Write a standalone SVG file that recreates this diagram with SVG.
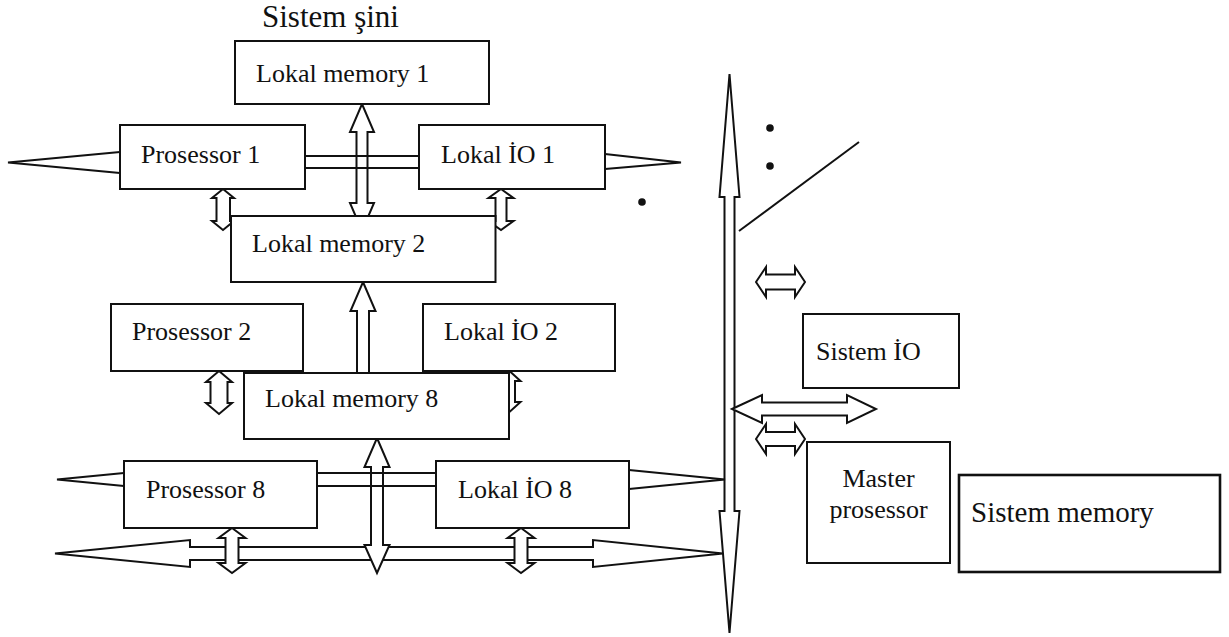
<svg xmlns="http://www.w3.org/2000/svg" width="1229" height="637" viewBox="0 0 1229 637">
  <style>
    .box { fill: #fff; stroke: #111; stroke-width: 2; }
    .thick { stroke-width: 2.6; }
    .ln { fill: none; stroke: #111; stroke-width: 2; }
    .arr { fill: #fff; stroke: #111; stroke-width: 2; stroke-linejoin: miter; }
    .arr0 { fill: none; stroke: #111; stroke-width: 2; stroke-linejoin: miter; }
    .lbl { font-family: "Liberation Serif", "Times New Roman", serif; font-size: 26px; fill: #111; }
    .big { font-size: 29px; }
    .title { font-size: 31px; }
    .dot { fill: #111; }
  </style>

  <rect width="1229" height="637" fill="#fff"/>

  <text class="lbl title" x="262" y="27">Sistem şini</text>

  <g id="connectors">
    <!-- system bus (vertical, double-headed) -->
    <polygon class="arr" points="729.5,74 739.5,197 734.5,197 734.5,511 739.5,511 729.5,633 719.5,511 724.5,511 724.5,197 719.5,197"/>

    <!-- outward spikes from the processor / IO boxes -->
    <polyline class="ln" points="120,152 8,162.5 120,173"/>
    <polyline class="ln" points="605,154 681,162.5 605,169"/>
    <polyline class="ln" points="124,473 57,479.5 124,486"/>
    <polyline class="ln" points="629,470 725,479.5 629,489"/>

    <!-- local bus 1 -->
    <line class="ln" x1="305" y1="156" x2="419" y2="156"/>
    <line class="ln" x1="305" y1="168" x2="419" y2="168"/>
    <polygon class="arr0" points="362,104 374,132 367.5,132 367.5,203 374,203 362,231 350,203 356.5,203 356.5,132 350,132"/>

    <!-- short links around local memory 2 -->
    <polygon class="arr" points="223,189 234,198 230,198 230,221 234,221 223,230 212,221 216.5,221 216.5,198 212,198"/>
    <polygon class="arr" points="501,189 513.5,198 506.5,198 506.5,221 513.5,221 501,230 488.5,221 495.5,221 495.5,198 488.5,198"/>

    <!-- local memory 8 to local memory 2 -->
    <polygon class="arr" points="363,282 375.5,311 369,311 369,373 357,373 357,311 350.5,311"/>

    <!-- short links around local memory 8 -->
    <polygon class="arr" points="219,371 232,382 227.5,382 227.5,403 232,403 219,414 206,403 210.5,403 210.5,382 206,382"/>
    <polygon class="arr" points="509.5,371 520.5,381 515,381 515,402 520.5,402 509.5,412 498.5,402 504,402 504,381 498.5,381"/>

    <!-- bottom local bus (double-headed) -->
    <polygon class="arr" points="55,553.5 190,540 190,547 593,547 593,540 723,553.5 593,567 593,560 190,560 190,567"/>
    <polygon class="arr" points="377,438 389.5,467 383,467 383,545 389.5,545 377,573 364.5,545 371,545 371,467 364.5,467"/>
    <line class="ln" x1="317" y1="473" x2="436" y2="473"/>
    <line class="ln" x1="317" y1="486" x2="436" y2="486"/>
    <polygon class="arr" points="232,528 245.5,538 238.5,538 238.5,563 245.5,563 232,573 218.5,563 225.5,563 225.5,538 218.5,538"/>
    <polygon class="arr" points="521,528 534.5,538 527.5,538 527.5,563 534.5,563 521,573 507.5,563 514.5,563 514.5,538 507.5,538"/>

    <!-- links on the system bus side -->
    <polygon class="arr" points="756,282 766,267 766,274.5 795,274.5 795,267 805,282 795,297 795,289.5 766,289.5 766,297"/>
    <polygon class="arr" points="732,409 762,395 762,402.5 847,402.5 847,395 876,409 847,423 847,415.5 762,415.5 762,423"/>
    <polygon class="arr" points="756,439 766,424 766,432 795,432 795,424 805,439 795,454 795,446 766,446 766,454"/>

    <line class="ln" x1="739" y1="231" x2="859" y2="142"/>
    <circle class="dot" cx="770" cy="128" r="3.8"/>
    <circle class="dot" cx="770" cy="166" r="3.8"/>
    <circle class="dot" cx="642" cy="202" r="3.8"/>
  </g>

  <g id="lokal-memory-1">
    <rect class="box" x="235" y="41" width="254" height="63"/>
    <text class="lbl" x="256" y="82">Lokal memory 1</text>
  </g>
  <g id="prosessor-1">
    <rect class="box" x="120" y="125" width="185" height="64"/>
    <text class="lbl" x="141" y="163">Prosessor 1</text>
  </g>
  <g id="lokal-io-1">
    <rect class="box" x="419" y="125" width="186" height="64"/>
    <text class="lbl" x="441" y="163">Lokal İO 1</text>
  </g>
  <g id="lokal-memory-2">
    <rect class="box" x="231" y="216" width="264.5" height="66"/>
    <text class="lbl" x="252" y="252">Lokal memory 2</text>
  </g>
  <g id="prosessor-2">
    <rect class="box" x="111" y="304" width="192" height="67"/>
    <text class="lbl" x="132" y="340">Prosessor 2</text>
  </g>
  <g id="lokal-io-2">
    <rect class="box" x="423" y="304" width="192" height="67"/>
    <text class="lbl" x="444" y="340">Lokal İO 2</text>
  </g>
  <g id="lokal-memory-8">
    <rect class="box" x="244" y="373" width="265" height="66"/>
    <text class="lbl" x="265" y="407">Lokal memory 8</text>
  </g>
  <g id="prosessor-8">
    <rect class="box" x="124" y="461" width="193" height="67"/>
    <text class="lbl" x="146" y="498">Prosessor 8</text>
  </g>
  <g id="lokal-io-8">
    <rect class="box" x="436" y="461" width="193" height="67"/>
    <text class="lbl" x="458" y="498">Lokal İO 8</text>
  </g>
  <g id="sistem-io">
    <rect class="box" x="803" y="314" width="156" height="74"/>
    <text class="lbl" x="816" y="360">Sistem İO</text>
  </g>
  <g id="master-prosessor">
    <rect class="box" x="807" y="442" width="143" height="121"/>
    <text class="lbl" x="878.5" y="487" text-anchor="middle">Master</text>
    <text class="lbl" x="878.5" y="518" text-anchor="middle">prosessor</text>
  </g>
  <g id="sistem-memory">
    <rect class="box thick" x="959" y="475" width="261" height="97"/>
    <text class="lbl big" x="971" y="522">Sistem memory</text>
  </g>
</svg>
